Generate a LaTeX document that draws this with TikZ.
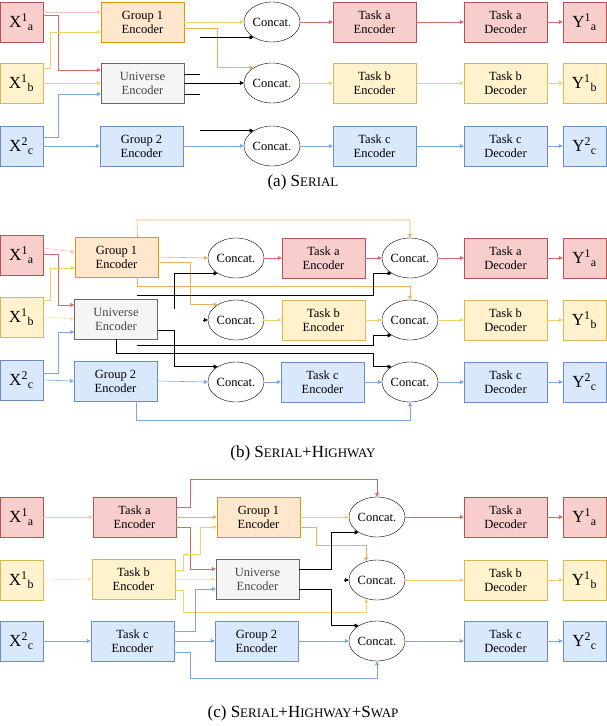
\documentclass[tikz,border=0pt]{standalone}
\usepackage{fontspec}
\setmainfont{Liberation Serif}
\usetikzlibrary{shapes.geometric,arrows.meta}
\definecolor{rF}{HTML}{F8CECC}\definecolor{rD}{HTML}{B85450}
\definecolor{yF}{HTML}{FFF2CC}\definecolor{yD}{HTML}{D6B656}
\definecolor{oF}{HTML}{FFE6CC}\definecolor{oD}{HTML}{D79B00}
\definecolor{bF}{HTML}{DAE8FC}\definecolor{bD}{HTML}{6C8EBF}
\definecolor{gF}{HTML}{F5F5F5}\definecolor{gD}{HTML}{666666}
\definecolor{rA}{HTML}{D46A6A}\definecolor{yA}{HTML}{F2D06B}
\definecolor{oA}{HTML}{EDAE5F}\definecolor{bA}{HTML}{7EA6E0}
\newcommand{\mysc}[2]{#1{\fontsize{13}{15}\selectfont #2}}
\tikzset{
 box/.style={draw,minimum width=83pt,minimum height=40pt,inner sep=0pt,align=center,font=\fontsize{12.5}{14}\selectfont},
 xb/.style={draw,minimum width=43pt,minimum height=40pt,inner sep=0pt,font=\fontsize{17}{18}\selectfont},
 rdb/.style={fill=rF,draw=rD}, yel/.style={fill=yF,draw=yD}, ora/.style={fill=oF,draw=oD},
 blu/.style={fill=bF,draw=bD}, gry/.style={fill=gF,draw=gD,text=gD!70!black},
 cc/.style={draw,ellipse,minimum width=56pt,minimum height=40pt,inner sep=0pt,font=\fontsize{12.5}{14}\selectfont},
 ar/.style={-{Triangle[width=4pt,length=4pt]},line width=0.6pt},
 nr/.style={line width=0.6pt},
 capt/.style={font=\fontsize{17}{19}\selectfont}
}
\begin{document}
\begin{tikzpicture}[x=1pt,y=-1pt]
\useasboundingbox (0,0) rectangle (606,726);
% ---------- (a)
\node[xb,rdb] (xa1) at (21.5,22) {X\textsuperscript{1}\textsubscript{a}};
\node[xb,yel] (xb1) at (21.5,83) {X\textsuperscript{1}\textsubscript{b}};
\node[xb,blu] (xc1) at (21.5,146) {X\textsuperscript{2}\textsubscript{c}};
\node[box,ora] (g1a) at (142.5,22) {Group 1\\Encoder};
\node[box,gry] (ua) at (142.5,83) {Universe\\Encoder};
\node[box,blu] (g2a) at (141.5,146) {Group 2\\Encoder};
\node[cc] (caa) at (272,22) {Concat.};
\node[cc] (cab) at (272,83) {Concat.};
\node[cc] (cac) at (272,146) {Concat.};
\node[box,rdb] (tea) at (374.5,22) {Task a\\Encoder};
\node[box,yel] (teb) at (374.5,83) {Task b\\Encoder};
\node[box,blu] (tec) at (374.5,146) {Task c\\Encoder};
\node[box,rdb] (dea) at (505.5,22) {Task a\\Decoder};
\node[box,yel] (deb) at (505.5,83) {Task b\\Decoder};
\node[box,blu] (dec) at (505.5,146) {Task c\\Decoder};
\node[xb,rdb] (ya1) at (584.5,22) {Y\textsuperscript{1}\textsubscript{a}};
\node[xb,yel] (yb1) at (584.5,83) {Y\textsuperscript{1}\textsubscript{b}};
\node[xb,blu] (yc1) at (584.5,146) {Y\textsuperscript{2}\textsubscript{c}};
\draw[ar,rA!40] ([yshift=10pt]xa1.east) -- ([yshift=10pt]g1a.west);
\draw[ar,rA] ([yshift=7pt]xa1.east) -- ++(15,0) |- ([yshift=13pt]ua.west);
\draw[ar,yA] ([yshift=15pt]xb1.east) -- ++(7,0) |- ([yshift=-10pt]g1a.west);
\draw[ar,yA] (xb1.east) -- (ua.west);
\draw[ar,bA] ([yshift=9pt]xc1.east) -- ++(15,0) |- ([yshift=-11pt]ua.west);
\draw[ar,bA] (xc1.east) -- (g2a.west);
\draw[ar,yA] (g1a.east) -- (caa.west);
\draw[ar,oA] ([yshift=-6pt]g1a.east) -- ++(33,0) |- (cab.140);
\path (200,0) coordinate (kx);
\coordinate (ka1) at (caa.220 -| kx); \draw[ar] (ka1) -- (caa.220);
\draw[nr] ([yshift=9pt]ua.east) -- ++(16,0);
\draw[ar] (ua.east) -- (cab.west);
\draw[nr] ([yshift=-11pt]ua.east) -- ++(16,0);
\coordinate (ka2) at (cac.140 -| kx); \draw[ar] (ka2) -- (cac.140);
\draw[ar,bA] (g2a.east) -- (cac.west);
\foreach \c/\e/\d/\y/\k in {caa/tea/dea/ya1/rA,cab/teb/deb/yb1/yA,cac/tec/dec/yc1/bA}{
 \draw[ar,\k] (\c.east) -- (\e.west); \draw[ar,\k] (\e.east) -- (\d.west); \draw[ar,\k] (\d.east) -- (\y.west);}
\node[capt] (capa) at (303,182) {(a) \mysc{S}{ERIAL}};
% ---------- (b)
\node[xb,rdb] (xa2) at (21.5,255) {X\textsuperscript{1}\textsubscript{a}};
\node[xb,yel] (xb2) at (21.5,317) {X\textsuperscript{1}\textsubscript{b}};
\node[xb,blu] (xc2) at (21.5,380) {X\textsuperscript{2}\textsubscript{c}};
\node[box,ora] (g1b) at (116.5,257) {Group 1\\Encoder};
\node[box,gry] (ub) at (116,319) {Universe\\Encoder};
\node[box,blu] (g2b) at (115.5,381) {Group 2\\Encoder};
\node[cc] (c1a) at (236,258) {Concat.};
\node[cc] (c1b) at (236,320) {Concat.};
\node[cc] (c1c) at (236,382) {Concat.};
\node[box,rdb] (eba) at (323.5,258) {Task a\\Encoder};
\node[box,yel] (ebb) at (323.5,320) {Task b\\Encoder};
\node[box,blu] (ebc) at (322.5,382) {Task c\\Encoder};
\node[cc] (c2a) at (410,258) {Concat.};
\node[cc] (c2b) at (410,320) {Concat.};
\node[cc] (c2c) at (410,382) {Concat.};
\node[box,rdb] (dba) at (505.5,258) {Task a\\Decoder};
\node[box,yel] (dbb) at (505.5,320) {Task b\\Decoder};
\node[box,blu] (dbc) at (505.5,382) {Task c\\Decoder};
\node[xb,rdb] (ya2) at (584.5,258) {Y\textsuperscript{1}\textsubscript{a}};
\node[xb,yel] (yb2) at (584.5,320) {Y\textsuperscript{1}\textsubscript{b}};
\node[xb,blu] (yc2) at (584.5,382) {Y\textsuperscript{2}\textsubscript{c}};
\draw[ar,rA!40] ([yshift=7pt]xa2.east) -- ([yshift=5pt]g1b.west);
\draw[ar,rA] ([yshift=1pt]xa2.east) -- ++(15,0) |- ([yshift=14pt]ub.west);
\draw[ar,yA] ([yshift=17pt]xb2.east) -- ++(7,0) |- ([yshift=-11pt]g1b.west);
\draw[ar,yA!60] (xb2.east) -- (ub.west);
\draw[ar,bA] ([yshift=7pt]xc2.east) -- ++(15,0) |- ([yshift=-13pt]ub.west);
\draw[ar,bA] (xc2.east) -- (g2b.west);
\draw[ar,oA] ([xshift=21pt]g1b.north) -- (137,220) -| (c2a.north);
\draw[ar,oA] (g1b.east) -- (c1a.west);
\draw[ar,oA] ([yshift=-5pt]g1b.east) -- ++(32,0) |- (c1b.140);
\draw[ar,oA] ([xshift=21pt]g1b.south) -- ++(0,9) -| (c2b.north);
\coordinate (kb1) at (137,295); \draw[ar] (kb1) -- (373,295) |- (c2a.220);
\coordinate (kb2) at (174,309); \draw[ar] (kb2) |- (c1a.220);
\coordinate (kb3) at (203,320); \draw[ar] (kb3) -- (c1b.west);
\draw[ar] ([yshift=-11pt]ub.east) -- (174,330) |- (c1c.140);
\draw[ar] (ub.south) |- (373,353) |- (c2c.140);
\coordinate (kb4) at (137,345); \draw[ar] (kb4) -- (373,345) |- (c2b.220);
\draw[ar,bA] ([xshift=21pt]g2b.south) -- ++(0,19) -| (c2c.south);
\draw[ar,bA] (g2b.east) -- (c1c.west);
\foreach \c/\e/\f/\d/\y/\k in {c1a/eba/c2a/dba/ya2/rA,c1b/ebb/c2b/dbb/yb2/yA,c1c/ebc/c2c/dbc/yc2/bA}{
 \draw[ar,\k] (\c.east) -- (\e.west); \draw[ar,\k] (\e.east) -- (\f.west);
 \draw[ar,\k] (\f.east) -- (\d.west); \draw[ar,\k] (\d.east) -- (\y.west);}
\node[capt] (capb) at (303,453) {(b) \mysc{S}{ERIAL}+\mysc{H}{IGHWAY}};
% ---------- (c)
\node[xb,rdb] (xa3) at (21.5,517) {X\textsuperscript{1}\textsubscript{a}};
\node[xb,yel] (xb3) at (21.5,580) {X\textsuperscript{1}\textsubscript{b}};
\node[xb,blu] (xc3) at (21.5,641) {X\textsuperscript{2}\textsubscript{c}};
\node[box,rdb] (tca) at (134.5,517) {Task a\\Encoder};
\node[box,yel] (tcb) at (133.5,579) {Task b\\Encoder};
\node[box,blu] (tcc) at (132.5,641) {Task c\\Encoder};
\node[box,ora] (g1c) at (258.5,517) {Group 1\\Encoder};
\node[box,gry] (uc) at (257.5,579) {Universe\\Encoder};
\node[box,blu] (g2c) at (256.5,641) {Group 2\\Encoder};
\node[cc] (c3a) at (377,517) {Concat.};
\node[cc] (c3b) at (377,580) {Concat.};
\node[cc] (c3c) at (377,641) {Concat.};
\node[box,rdb] (dca) at (505.5,517) {Task a\\Decoder};
\node[box,yel] (dcb) at (505.5,580) {Task b\\Decoder};
\node[box,blu] (dcc) at (505.5,641) {Task c\\Decoder};
\node[xb,rdb] (ya3) at (584.5,517) {Y\textsuperscript{1}\textsubscript{a}};
\node[xb,yel] (yb3) at (584.5,580) {Y\textsuperscript{1}\textsubscript{b}};
\node[xb,blu] (yc3) at (584.5,641) {Y\textsuperscript{2}\textsubscript{c}};
\draw[ar,rA!40] (xa3.east) -- (tca.west);
\draw[ar,yA!60] (xb3.east) -- (tcb.west);
\draw[ar,bA] (xc3.east) -- (tcc.west);
\draw[ar,rA] ([yshift=10pt]tca.east) -- (190,507) -- (190,479) -| (c3a.north);
\draw[ar,rA!60] (tca.east) -- (g1c.west);
\draw[ar,rA] ([yshift=-10pt]tca.east) -- (190,527) |- ([yshift=10pt]uc.west);
\draw[ar,yA] ([yshift=9pt]tcb.east) -- (183,570) -- (183,554) -- (200,554) |- ([yshift=-10pt]g1c.west);
\draw[ar,yA!60] (tcb.east) -- (uc.west);
\draw[ar,yA] ([yshift=-11pt]tcb.east) -- (183,590) -- (183,612) -| (c3b.240);
\draw[ar,bA] ([yshift=10pt]tcc.east) -- (195,631) |- ([yshift=-10pt]uc.west);
\draw[ar,bA] (tcc.east) -- (g2c.west);
\draw[ar,bA] ([yshift=-11pt]tcc.east) -- (190,652) -- (190,678) -| (c3c.south);
\draw[ar,yA] (g1c.east) -- (c3a.west);
\draw[ar,oA] ([yshift=-10pt]g1c.east) -- (316,527) -- (316,545) -| (c3b.120);
\draw[ar] ([yshift=10pt]uc.east) -- (331,569) |- (c3a.220);
\draw[ar] ([yshift=-10pt]uc.east) -- (331,589) |- (c3c.140);
\coordinate (kc1) at (344,580); \draw[ar] (kc1) -- (c3b.west);
\draw[ar,bA] (g2c.east) -- (c3c.west);
\foreach \c/\d/\y/\k in {c3a/dca/ya3/rA,c3b/dcb/yb3/yA,c3c/dcc/yc3/bA}{
 \draw[ar,\k] (\c.east) -- (\d.west); \draw[ar,\k] (\d.east) -- (\y.west);}
\node[capt] (capc) at (303,713) {(c) \mysc{S}{ERIAL}+\mysc{H}{IGHWAY}+\mysc{S}{WAP}};
\end{tikzpicture}
\end{document}
